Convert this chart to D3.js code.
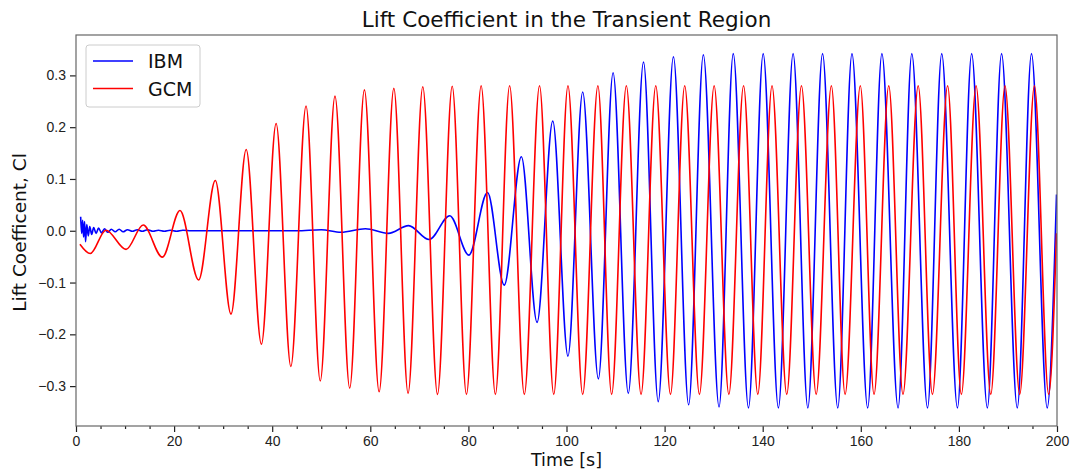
<!DOCTYPE html>
<html>
<head>
<meta charset="utf-8">
<script src="https://cdn.jsdelivr.net/npm/d3@7"></script>
<style>
  body { margin: 0; background: #fff; }
  svg { font-family: "DejaVu Sans", sans-serif; }
</style>
</head>
<body>
<div id="grafico"></div>
<script>
// extrema of each signal (time in s, lift coefficient)
const ibmTime = [0.95, 1.15, 1.35, 1.55, 1.75, 1.95, 2.2, 2.5, 2.8, 3.2, 3.6, 4.1, 4.6, 5.2, 5.8, 6.5, 7.2, 8.0, 8.8, 9.6,
  10.5, 11.5, 12.5, 13.5, 14.6, 15.7, 16.8, 18.0, 19.2, 20.5, 21.8, 23.5, 30, 40, 45, 50, 54, 59,
  63.7, 67.8, 72.0, 76.2, 80.1, 83.9, 87.3, 90.8, 94.0, 97.2, 100.3, 103.3, 106.5, 109.5, 112.6, 115.7, 118.7,
  121.8, 124.9, 127.9, 131.1, 134.0, 137.1, 140.1, 143.2, 146.2, 149.2, 152.2, 155.3, 158.2, 161.4, 164.3,
  167.6, 170.4, 173.6, 176.5, 179.7, 182.6, 185.8, 188.7, 191.9, 194.8, 198.0, 199.9];
const ibmCl = [0.027, -0.005, 0.020, -0.012, 0.018, -0.021, 0.012, -0.010, 0.008, -0.007, 0.006, -0.005, 0.005, -0.004, 0.004, -0.003, 0.003, -0.002, 0.003, -0.002,
  0.002, -0.001, 0.002, -0.001, 0.002, -0.001, 0.001, -0.001, 0.001, -0.001, 0.001, 0.0, 0.0, 0.0, 0.0, 0.002, -0.003, 0.004,
  -0.005, 0.010, -0.017, 0.029, -0.047, 0.074, -0.105, 0.143, -0.177, 0.212, -0.242, 0.268, -0.286, 0.305, -0.314, 0.326, -0.330,
  0.336, -0.336, 0.340, -0.340, 0.342, -0.342, 0.342, -0.342, 0.342, -0.342, 0.342, -0.342, 0.342, -0.342, 0.342,
  -0.342, 0.342, -0.342, 0.342, -0.342, 0.342, -0.342, 0.342, -0.342, 0.342, -0.342, 0.070];

const gcmTime = [0.8, 2.9, 6.1, 10.2, 13.7, 17.6, 21.2, 25.0, 28.4, 31.6, 34.7, 37.8, 40.8, 43.8, 46.9, 49.8, 52.8, 55.8,
  58.8, 61.8, 64.8, 67.7, 70.7, 73.7, 76.7, 79.6, 82.6, 85.5, 88.4, 91.4, 94.5, 97.4, 100.3, 103.3, 106.4, 109.2,
  112.2, 115.2, 118.2, 121.2, 124.1, 127.1, 130.1, 133.1, 136.1, 139.0, 141.9, 144.9, 147.9, 150.9, 154.0, 156.8,
  159.9, 162.7, 165.7, 168.6, 171.7, 174.6, 177.7, 180.5, 183.5, 186.5, 189.4, 192.4, 195.4, 198.3, 199.9];
const gcmCl = [-0.026, -0.044, 0.001, -0.036, 0.011, -0.051, 0.039, -0.095, 0.097, -0.161, 0.157, -0.219, 0.207, -0.262, 0.241, -0.290, 0.260, -0.304,
  0.272, -0.311, 0.275, -0.314, 0.278, -0.316, 0.279, -0.316, 0.280, -0.316, 0.280, -0.316, 0.280, -0.316, 0.280, -0.316, 0.280, -0.316,
  0.280, -0.316, 0.280, -0.316, 0.280, -0.316, 0.280, -0.316, 0.280, -0.316, 0.280, -0.316, 0.280, -0.316, 0.280, -0.316,
  0.280, -0.316, 0.280, -0.316, 0.280, -0.316, 0.280, -0.316, 0.280, -0.316, 0.280, -0.316, 0.280, -0.316, -0.005];

const series = [
  { name: "IBM", color: "#0000ff", t: ibmTime, v: ibmCl },
  { name: "GCM", color: "#ff0000", t: gcmTime, v: gcmCl }
];

const xTicks = [0, 20, 40, 60, 80, 100, 120, 140, 160, 180, 200];
const xMinorTicks = d3.range(0, 201, 5);
const yTicks = [-0.3, -0.2, -0.1, 0.0, 0.1, 0.2, 0.3];

const W = 1077, H = 472;
const margin = { top: 35, right: 20, bottom: 46, left: 76 };
const width = W - margin.left - margin.right;
const height = H - margin.top - margin.bottom;

const svg = d3.select("#grafico").append("svg")
  .attr("width", W)
  .attr("height", H);

const g = svg.append("g")
  .attr("transform", `translate(${margin.left},${margin.top})`);

const x = d3.scaleLinear().domain([0, 200]).range([0, width]);
const y = d3.scaleLinear().domain([-0.377, 0.378]).range([height, 0]);

// lines
g.append("defs").append("clipPath").attr("id", "clip")
  .append("rect").attr("width", width).attr("height", height);

const line = d3.line()
  .x(d => x(d[0]))
  .y(d => y(d[1]))
  .curve(d3.curveMonotoneX);

series.forEach(s => {
  g.append("path")
    .datum(s.t.map((t, i) => [t, s.v[i]]))
    .attr("clip-path", "url(#clip)")
    .attr("fill", "none")
    .attr("stroke", s.color)
    .attr("stroke-width", 1.6)
    .attr("stroke-linejoin", "round")
    .attr("d", line);
});

// axes
const xAxis = g.append("g")
  .attr("transform", `translate(0,${height})`)
  .call(d3.axisBottom(x).tickValues(xTicks).tickFormat(d3.format("d")).tickSize(6).tickPadding(4));
g.append("g")
  .attr("transform", `translate(0,${height})`)
  .call(d3.axisBottom(x).tickValues(xMinorTicks.filter(v => v % 20 !== 0)).tickFormat("").tickSize(3))
  .call(a => a.select(".domain").remove());

const yAxis = g.append("g")
  .call(d3.axisLeft(y).tickValues(yTicks).tickFormat(d => d3.format(".1f")(d).replace("-", "\u2212")).tickSize(6).tickPadding(4));

[xAxis, yAxis].forEach(a => {
  a.select(".domain").remove();
  a.selectAll("text").attr("font-size", "14px").attr("fill", "#222");
});
g.selectAll(".tick line").attr("stroke", "#222").attr("stroke-width", 1.2);

// frame
g.append("rect")
  .attr("width", width)
  .attr("height", height)
  .attr("fill", "none")
  .attr("stroke", "#666")
  .attr("stroke-width", 1.2);

// titles
svg.append("text")
  .attr("x", margin.left + width / 2)
  .attr("y", 27)
  .attr("text-anchor", "middle")
  .attr("font-size", "21.5px")
  .attr("fill", "#111")
  .text("Lift Coefficient in the Transient Region");

svg.append("text")
  .attr("x", margin.left + width / 2)
  .attr("y", 466)
  .attr("text-anchor", "middle")
  .attr("font-size", "17.5px")
  .attr("fill", "#111")
  .text("Time [s]");

svg.append("text")
  .attr("transform", `translate(26,${margin.top + height / 2 + 2}) rotate(-90)`)
  .attr("text-anchor", "middle")
  .attr("font-size", "18.5px")
  .attr("fill", "#111")
  .text("Lift Coefficent, Cl");

// legend
const legend = g.append("g").attr("transform", "translate(10,10)");
legend.append("rect")
  .attr("width", 114)
  .attr("height", 62)
  .attr("rx", 3)
  .attr("fill", "#fff")
  .attr("fill-opacity", 0.8)
  .attr("stroke", "#ccc");

series.forEach((s, i) => {
  const yy = 16 + i * 27.5;
  legend.append("line")
    .attr("x1", 7).attr("x2", 47)
    .attr("y1", yy).attr("y2", yy)
    .attr("stroke", s.color)
    .attr("stroke-width", 1.6);
  legend.append("text")
    .attr("x", 62)
    .attr("y", yy + 7)
    .attr("font-size", "19px")
    .attr("fill", "#111")
    .text(s.name);
});
</script>
</body>
</html>
